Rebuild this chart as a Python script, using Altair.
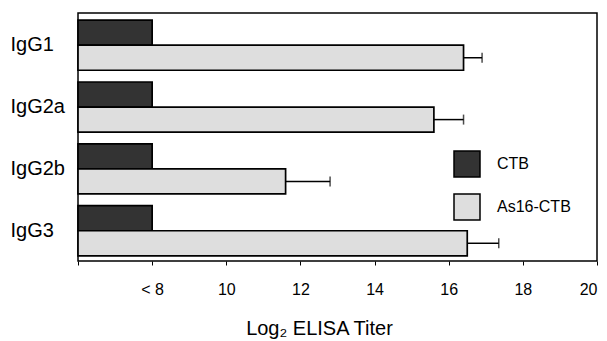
import altair as alt
import pandas as pd

isotypes = ["IgG1", "IgG2a", "IgG2b", "IgG3"]
groups = ["CTB", "As16-CTB"]
ctb_titer = [8, 8, 8, 8]
as16_titer = [16.4, 15.6, 11.6, 16.5]
as16_err = [0.5, 0.8, 1.2, 0.85]
x_ticks = [6, 8, 10, 12, 14, 16, 18, 20]
colors = ["#333333", "#dedede"]

rows = []
for i, iso in enumerate(isotypes):
    rows.append({"isotype": iso, "group": "CTB", "titer": ctb_titer[i], "upper": ctb_titer[i]})
    rows.append({"isotype": iso, "group": "As16-CTB", "titer": as16_titer[i],
                 "upper": as16_titer[i] + as16_err[i]})
df = pd.DataFrame(rows)
err_df = df[df["group"] == "As16-CTB"]

FONT = "Liberation Sans"

y = alt.Y("isotype:N", sort=isotypes,
          scale=alt.Scale(domain=isotypes, paddingInner=0.19, paddingOuter=0.1, align=0.58),
          axis=alt.Axis(title=None, ticks=False, domain=False, labelAlign="left",
                        labelPadding=68, labelFontSize=20, labelFont=FONT, labelColor="black"))
yoff = alt.YOffset("group:N", sort=groups,
                   scale=alt.Scale(domain=groups, paddingInner=0, paddingOuter=0))
x = alt.X("titer:Q", scale=alt.Scale(domain=[6, 20], zero=False, nice=False),
          axis=alt.Axis(values=x_ticks,
                        labelExpr="datum.value == 8 ? '< 8' : (datum.value == 6 ? '' : datum.label)",
                        title="Log\u2082 ELISA Titer", titleFont=FONT, titleFontSize=20,
                        titleFontWeight="normal", titleColor="black", titleX=241, titleY=73,
                        titleBaseline="alphabetic",
                        labelFont=FONT, labelFontSize=16, labelColor="black", labelPadding=16,
                        ticks=True, tickSize=4, tickColor="black", tickWidth=1,
                        domain=False, grid=False))

bars = alt.Chart(df).mark_bar(stroke="black", strokeWidth=1.7).encode(
    x=x,
    x2=alt.datum(6),
    y=y,
    yOffset=yoff,
    color=alt.Color("group:N", sort=groups,
                    scale=alt.Scale(domain=groups, range=colors),
                    legend=alt.Legend(title=None, orient="none", legendX=375, legendY=137,
                                      symbolType="square", symbolSize=676,
                                      symbolStrokeColor="black", symbolStrokeWidth=1.5,
                                      labelFont=FONT, labelFontSize=16, labelColor="black",
                                      labelOffset=16, rowPadding=11, padding=0)),
)

err_rule = alt.Chart(err_df).mark_rule(color="black", strokeWidth=1.5).encode(
    x="titer:Q", x2="upper:Q", y=y, yOffset=yoff)
err_cap = alt.Chart(err_df).mark_tick(color="black", thickness=1.5, size=10).encode(
    x="upper:Q", y=y, yOffset=yoff)

chart = alt.layer(bars, err_rule, err_cap).properties(
    width=519, height=248,
    padding={"left": 78, "top": 13, "right": 10, "bottom": 80},
    autosize=alt.AutoSizeParams(type="none"),
    background="white",
).configure_view(stroke="black", strokeWidth=1.5)

chart.save("out.html", embed_options={"renderer": "svg", "actions": False})
